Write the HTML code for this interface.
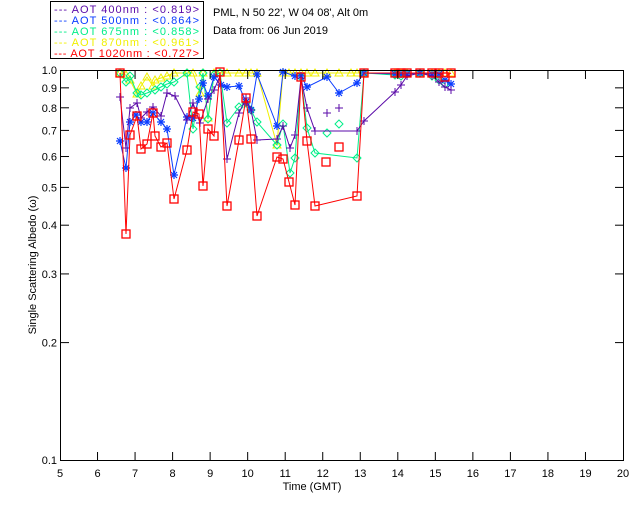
<!DOCTYPE html>
<html><head><meta charset="utf-8"><style>
body{margin:0;background:#fff}
svg{display:block;font-family:"Liberation Sans",sans-serif}
</style></head><body>
<svg id="s" width="640" height="512" xmlns="http://www.w3.org/2000/svg">
<rect width="640" height="512" fill="#fff"/>
<g id="data"></g>
<g stroke="#000" stroke-width="1" fill="none">
<rect x="60.5" y="70.5" width="563" height="390"/>
</g>
<g id="ax" stroke="#000"></g>
<g id="lab" font-size="11" fill="#000"></g>
<text x="312" y="490" font-size="11" text-anchor="middle">Time (GMT)</text>
<text transform="translate(36,265) rotate(-90)" font-size="11" text-anchor="middle">Single Scattering Albedo (ω)</text>
<rect x="50.5" y="1.5" width="153" height="57" fill="#fff" stroke="#000"/>
<g font-size="11">
<text x="54" y="13" fill="#5a0aa8" textLength="145" lengthAdjust="spacing">--- AOT  400nm : &lt;0.819&gt;</text>
<text x="54" y="24" fill="#0a3cff" textLength="145" lengthAdjust="spacing">--- AOT  500nm : &lt;0.864&gt;</text>
<text x="54" y="35" fill="#00ee88" textLength="145" lengthAdjust="spacing">--- AOT  675nm : &lt;0.858&gt;</text>
<text x="54" y="46" fill="#f0f000" textLength="145" lengthAdjust="spacing">--- AOT  870nm : &lt;0.961&gt;</text>
<text x="54" y="57" fill="#ff0000" textLength="145" lengthAdjust="spacing">--- AOT 1020nm : &lt;0.727&gt;</text>
<text x="213" y="16" fill="#000">PML, N 50 22', W 04 08', Alt 0m</text>
<text x="213" y="34" fill="#000">Data from: 06 Jun 2019</text>
</g>
</svg>
<script>
const NS="http://www.w3.org/2000/svg";
function el(p,t,a,txt){const e=document.createElementNS(NS,t);for(const k in a)e.setAttribute(k,a[k]);if(txt!=null)e.textContent=txt;p.appendChild(e);return e;}
const ax=document.getElementById('ax'),lab=document.getElementById('lab'),D=document.getElementById('data');
const X=h=>60+(h-5)*563/15, Y=v=>460-(Math.log10(v)+1)*390;
for(let h=5;h<=20;h++){const x=X(h);if(h>5&&h<20){el(ax,'line',{x1:x,y1:460,x2:x,y2:452});el(ax,'line',{x1:x,y1:71,x2:x,y2:79});}
el(lab,'text',{x:x,y:477,'text-anchor':'middle'},h);}
[0.1,0.2,0.3,0.4,0.5,0.6,0.7,0.8,0.9,1.0].forEach(v=>{const y=Y(v);if(v>0.1&&v<1){el(ax,'line',{x1:61,y1:y,x2:69,y2:y});el(ax,'line',{x1:623,y1:y,x2:615,y2:y});}
el(lab,'text',{x:57,y:y+4,'text-anchor':'end'},v.toFixed(1));});
function series(col,pts,mk,nol){
 if(!nol){let d=pts.map((p,i)=>(i?'L':'M')+p[0]+' '+p[1]).join(' ');
 el(D,'path',{d:d,stroke:col,fill:'none','stroke-width':1});}
 pts.forEach(([x,y])=>{
  if(mk=='sq')el(D,'rect',{x:x-4,y:y-4,width:8,height:8,fill:'none',stroke:col,'stroke-width':1.3});
  else if(mk=='plus'){el(D,'path',{d:`M${x-4} ${y}H${x+4}M${x} ${y-4}V${y+4}`,stroke:col});}
  else if(mk=='star'){el(D,'path',{d:`M${x-4} ${y}H${x+4}M${x} ${y-4}V${y+4}M${x-3} ${y-3}L${x+3} ${y+3}M${x-3} ${y+3}L${x+3} ${y-3}`,stroke:col,'stroke-width':1.2});}
  else if(mk=='dia')el(D,'path',{d:`M${x} ${y-4}L${x+4} ${y}L${x} ${y+4}L${x-4} ${y}Z`,stroke:col,fill:'none'});
  else if(mk=='tri')el(D,'path',{d:`M${x} ${y-4}L${x+4} ${y+3}L${x-4} ${y+3}Z`,stroke:col,fill:'none'});
 });}
const yel=[[120,73],[126,75],[130,80],[137,94],[141,86],[147,77],[153,86],[155,80],[161,78],[167,76],[174,73],[187,73],[193,73],[200,93],[203,73],[208,118],[214,73],[220,73],[227,73],[239,73],[246,73],[251,73],[257,73],[277,145],[283,73],[289,73],[295,73],[301,73],[307,73],[315,73],[327,73],[339,73],[351,73],[357,73],[364,73],[395,73],[401,73],[407,73],[420,73],[432,73],[439,73],[445,73],[451,73]];
const grn=[[120,73],[126,82],[130,76],[137,93],[141,95],[147,93],[155,90],[161,87],[167,84],[174,82],[187,73],[193,129],[200,87],[203,73],[208,119],[214,75],[220,73],[227,123],[239,107],[246,103],[251,110],[257,122],[277,145],[283,124],[290,173],[295,158],[301,77],[307,128],[315,153],[357,158],[364,73],[395,75],[401,76],[407,74],[420,73],[432,76],[439,80],[445,84]];
const grnIso=[[327,133],[339,124]];
const blu=[[120,141],[126,168],[130,122],[136,115],[141,122],[147,122],[153,113],[161,122],[167,129],[174,175],[187,117],[193,118],[199,99],[203,83],[208,96],[214,77],[221,85],[227,87],[239,86],[246,102],[251,110],[257,74],[277,126],[283,72],[295,76],[301,76],[307,87],[327,77],[339,93],[357,83],[364,73],[395,74],[401,74],[407,74],[420,73],[432,74],[439,74],[445,80],[451,84]];
const pur=[[120,97],[126,148],[130,108],[137,103],[141,118],[147,112],[153,107],[161,116],[167,93],[175,96],[187,120],[193,103],[200,123],[208,99],[214,90],[220,76],[227,159],[239,113],[246,98],[251,110],[257,140],[277,139],[283,126],[290,148],[295,135],[301,78],[307,108],[315,131],[357,131],[364,121],[395,92],[401,85],[407,76],[420,73],[432,76],[439,82],[445,87],[451,90]];
const purIso=[[327,113],[339,108]];
const red=[[120,73],[126,234],[130,135],[137,116],[141,149],[147,144],[153,113],[155,136],[161,147],[167,143],[174,199],[187,150],[193,112],[199,114],[203,186],[208,129],[214,136],[220,72],[227,206],[239,140],[246,98],[251,139],[257,216],[277,157],[283,159],[289,182],[295,205],[301,77],[307,141],[315,206],[357,196],[364,73],[395,73],[401,73],[407,73],[420,73],[432,73],[439,73],[445,77],[451,73]];
const redIso=[[326,162],[339,147]];
series('#f0f000',yel,'tri');series('#00ee88',grn,'dia');series('#00ee88',grnIso,'dia',1);
series('#0a3cff',blu,'star');series('#5a0aa8',pur,'plus');series('#5a0aa8',purIso,'plus',1);
series('#ff0000',red,'sq');series('#ff0000',redIso,'sq',1);
</script>
</body></html>
